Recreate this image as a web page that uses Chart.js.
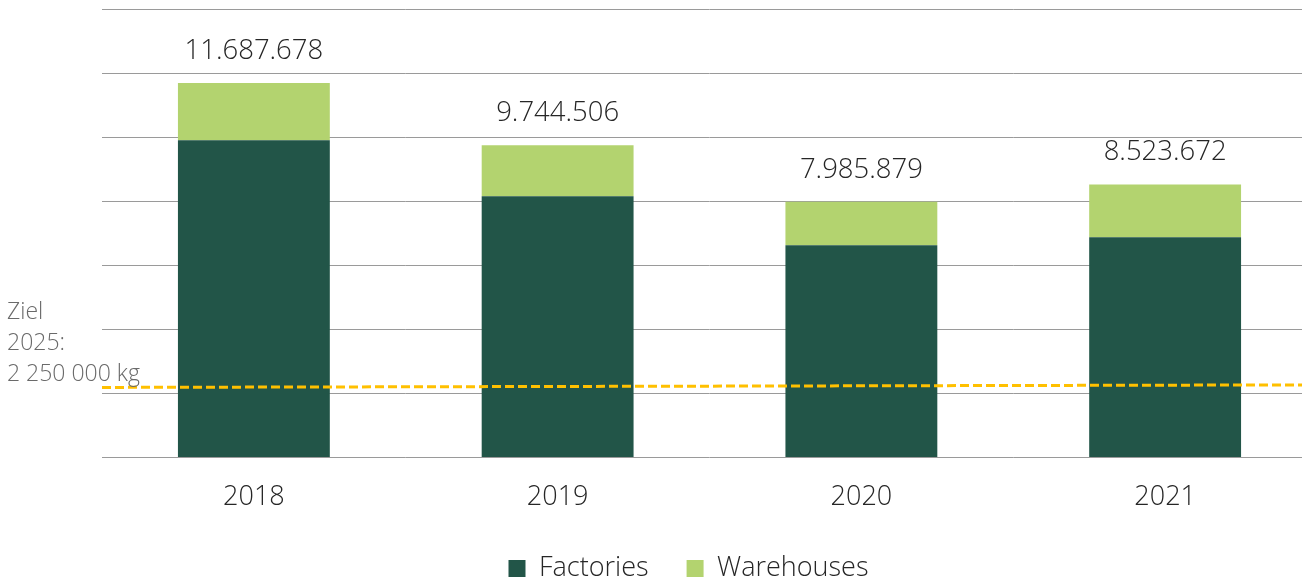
<!DOCTYPE html>
<html>
<head>
<meta charset="utf-8">
<script src="https://cdn.jsdelivr.net/npm/chart.js@4/dist/chart.umd.min.js"></script>
<style>
  html, body { margin: 0; padding: 0; background: #ffffff; overflow: hidden; width: 1302px; height: 579px; }
  #wrap { width: 1317px; height: 579px; }
</style>
</head>
<body>
<div id="wrap"><canvas id="c" width="1317" height="579"></canvas></div>
<script>
const CATEGORIES = ['2018', '2019', '2020', '2021'];
const FACTORIES = [9906000, 8156000, 6625000, 6875000];
const WAREHOUSES = [1781678, 1588506, 1360879, 1648672];
const TOTAL_LABELS = ['11.687.678', '9.744.506', '7.985.879', '8.523.672'];
const TARGET_LINE = [2190000, 2270000];
const TARGET_TEXT = ['Ziel', '2025:', '2 250 000 kg'];
const Y_MAX = 14000000;
const Y_STEP = 2000000;

const FONT = '"Open Sans", "DejaVu Sans", sans-serif';

const overlay = {
  id: 'overlay',
  afterDatasetsDraw(chart) {
    const ctx = chart.ctx;
    const y = chart.scales.y;
    const area = chart.chartArea;
    const meta = chart.getDatasetMeta(1);
    ctx.save();
    ctx.fillStyle = '#262626';
    ctx.font = '300 27.5px ' + FONT;
    ctx.textAlign = 'center';
    ctx.textBaseline = 'middle';
    meta.data.forEach((bar, i) => {
      ctx.fillText(TOTAL_LABELS[i], bar.x, bar.y - 32);
    });
    ctx.strokeStyle = '#FFC000';
    ctx.lineWidth = 3;
    ctx.setLineDash([9, 4]);
    ctx.beginPath();
    ctx.moveTo(area.left, y.getPixelForValue(TARGET_LINE[0]));
    ctx.lineTo(chart.width, y.getPixelForValue(TARGET_LINE[1]));
    ctx.stroke();
    ctx.setLineDash([]);
    ctx.fillStyle = '#6a6a6a';
    ctx.font = '300 23px ' + FONT;
    ctx.textAlign = 'left';
    ctx.textBaseline = 'middle';
    TARGET_TEXT.forEach((t, i) => {
      ctx.fillText(t, 7, 312 + i * 31);
    });
    ctx.restore();
  }
};

new Chart(document.getElementById('c'), {
  type: 'bar',
  data: {
    labels: CATEGORIES,
    datasets: [
      { label: 'Factories', data: FACTORIES, backgroundColor: '#225548', borderWidth: 0 },
      { label: 'Warehouses', data: WAREHOUSES, backgroundColor: '#B3D36F', borderWidth: 0 }
    ]
  },
  options: {
    responsive: false,
    devicePixelRatio: 1,
    animation: false,
    barPercentage: 0.5,
    categoryPercentage: 1.0,
    layout: { padding: { left: 60, right: 0, top: 9, bottom: -13 } },
    plugins: {
      tooltip: { enabled: false },
      legend: {
        position: 'bottom',
        labels: {
          font: { family: FONT, size: 27, weight: '300' },
          color: '#262626',
          boxWidth: 17,
          boxHeight: 17,
          padding: 38
        }
      }
    },
    scales: {
      x: {
        stacked: true,
        grid: { display: false },
        border: { display: false },
        ticks: { font: { family: FONT, size: 27, weight: '300' }, color: '#262626', padding: 16 },
        afterFit(scale) { scale.height -= 13; }
      },
      y: {
        stacked: true,
        min: 0,
        max: Y_MAX,
        ticks: { display: false, stepSize: Y_STEP },
        grid: { color: '#9a9a9a', lineWidth: 1, drawTicks: false },
        border: { display: false },
        afterFit(scale) { scale.width = 42; }
      }
    }
  },
  plugins: [overlay]
});
</script>
</body>
</html>
